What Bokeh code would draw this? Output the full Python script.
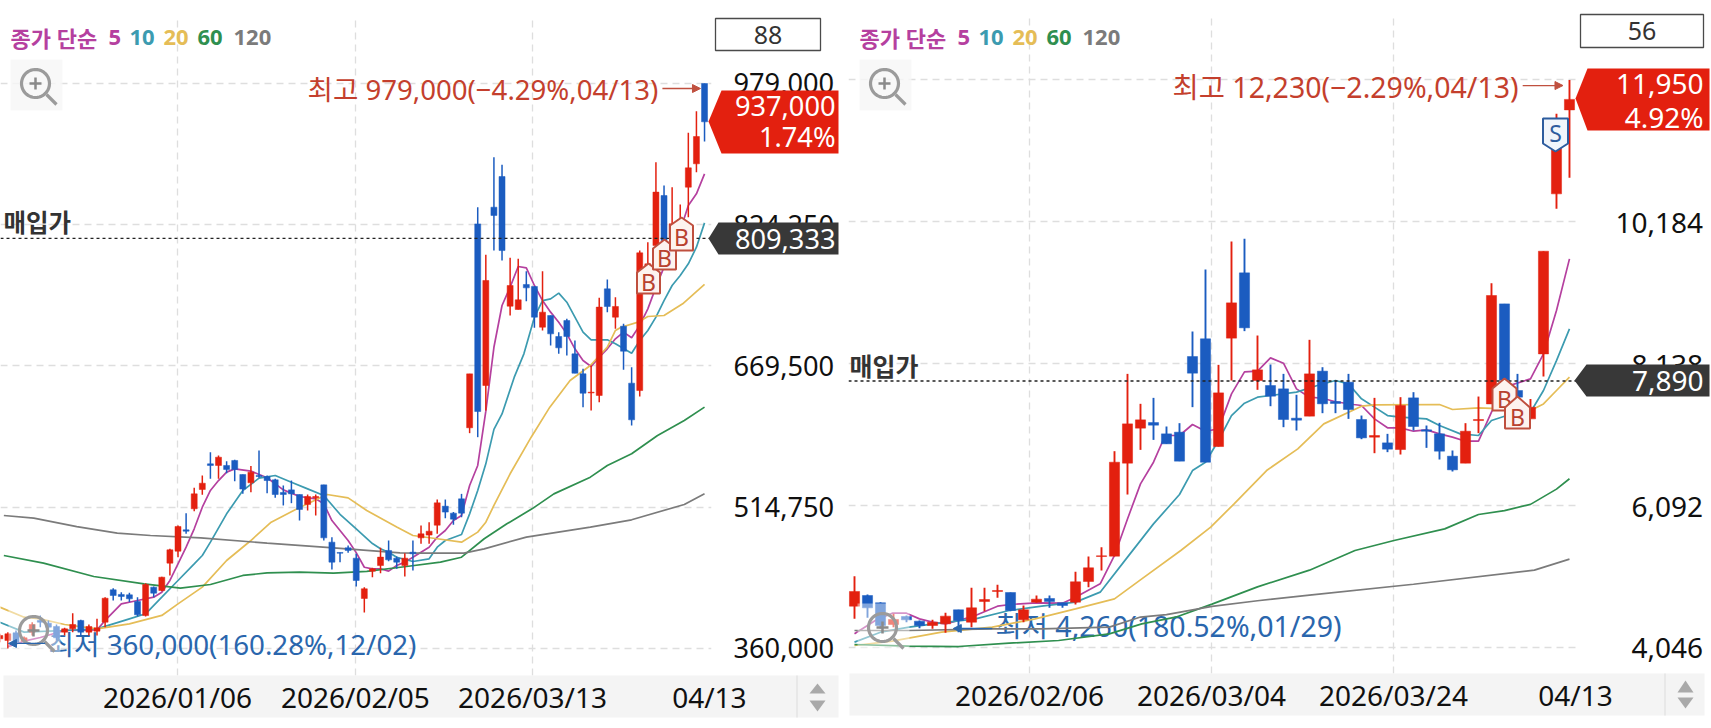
import numpy as np
from bokeh.embed import file_html
from bokeh.resources import INLINE
from bokeh.plotting import figure
from bokeh.models import (Range1d, FixedTicker, Span, Label, PolyAnnotation, BoxAnnotation,
                          Arrow, NormalHead, ColumnDataSource)

# ---- left chart values (thousand won)
L_OPEN = [370.6,368.8,377.2,368,377.9,390.7,387.7,384.1,377.9,381.5,390.7,377.9,379,388.8,424.3,419.2,418.8,411.5,396.1,427.2,
          423.5,453.5,466.6,490,513,534.2,562.3,560.5,560.5,566,550.6,541.5,549.5,548.4,544.8,530.9,533.8,528.7,517.8,525.1,
          539.3,476.5,465.2,470.3,459,414.8,444.7,450.9,467.4,459,450.9,465.5,481.2,484.2,495.1,515.9,508.3,524,601.8,825.2,
          648.1,843.5,877.1,735,731.4,758.8,756.6,712,724.8,701.8,719.3,682.8,661,640,637.2,754,723,713.1,650.7,642.6,
          766.8,801.5,856.3,810.6,818,865.4,891,979]
L_CLOSE = [374.2,376.1,366.9,371.7,386.3,388.8,383.4,371.7,381.5,386.3,377.9,384.1,382.6,415.1,418.1,417,414.4,396.9,430.1,420.6,
           438.1,468.1,493.7,488.5,529.4,541.1,560.5,569.6,556.1,556.1,534.6,553.2,548.4,544,528.7,528.7,529.4,512.3,526.5,526.5,
           481.2,454.6,464.4,467.4,434.5,425.4,447.3,460.1,457.1,454.6,459,463.7,485.6,488.5,519.6,509.4,501.7,508.3,660.9,619.6,
           763.2,834.4,796,757.7,742,755.1,723,728.5,704.7,689.4,701.8,661.6,639.7,640.8,734,734.7,734.7,685.7,610.5,793.5,
           781.4,860,807,825.3,829.6,886.6,920.9,937]
L_HIGH = [376.1,377.9,379.7,373.1,388.8,396.2,390.7,386.3,382.6,398.7,391.4,386.3,392.5,416.2,426.1,421.7,421,416.2,431.6,427.9,
          438.5,469.2,494.8,508.3,536,549.5,575.1,571.4,565.2,566.7,550.6,559.8,576.9,549.5,545.9,538.6,544,528.7,528.7,528.7,
          539.3,482,465.2,472.8,463.7,427.2,448.4,470.3,478.3,460.8,464.4,478.3,494.8,498.4,523.2,523.2,509.4,529.4,660.9,843.5,
          791.3,898.3,889.9,788,786.9,773.4,756.6,773.4,724.8,706.6,721.2,697.4,666.4,670,744.2,764.3,744.9,715.7,668.2,796,
          805.2,892.8,867.2,865.4,846.4,925,948.7,979]
L_LOW = [366.9,360,363.3,365.1,374.2,383.4,379.7,368.8,374.2,377.9,374.2,374.2,374.2,383.4,412.6,412.6,410.8,395,395,416.2,
         422.8,440,460,485.6,510.4,528.3,545.9,545.9,552.1,543.3,529.4,531.3,547,530.2,525.1,516.7,519.2,500.2,511.2,505.7,
         478.3,446.5,454.6,464.8,427.9,399.4,438.1,442.5,455.7,447.3,438.9,445.5,474.7,474.7,485.6,502.8,495.5,503.9,595.9,591.5,
         620.8,796,785.1,724.8,731.4,740.5,711.3,708.4,692,682.8,681,661.6,624.4,620.8,629.9,728.5,710.2,665.3,604.3,636.1,
         748.6,800,805.2,807,814.3,832.5,881.9,915.5]

L_MA5_X = [1,3,5,8,12,13,15,17,19,20,21,22,23,24,25,26,27,28,29,31,33,35,37,39,40,41,43,44,45,46,47,48,49,50,51,52,53,54,55,56,57,
           58,59,60,61,62,63,64,65,66,67,68,69,70,71,72,73,74,75,76,77,78,79,80,81,82,83,84,85,86,87]
L_MA5 = [362,368,372,379.7,380.4,390.7,408.9,412.6,416.2,421.7,434.5,452.7,471,491.1,514.8,533.1,544,553.2,556.8,554.3,547,533.8,526.5,524,518.5,
         500.2,478.3,465,449,447.3,447.3,444.7,450.9,454.6,460,465.5,471,482,489.3,500.2,505.7,538.6,560.5,620,690,735.8,755.9,778.5,777,757.7,
         741.2,728.5,717.5,704.7,688.3,675.5,669,679.2,688.3,699.3,706.6,700.4,714,732.1,755.9,777.8,796,817.9,845.3,858.1,880]
L_MA10_X = [0,3,8,12,14,16,18,20,22,24,25,26,28,30,32,34,36,38,40,42,44,46,47,48,49,51,53,54,55,57,58,59,60,61,62,63.5,64.7,66,67,68,69,70,71,72,73,74,75,76,78,79,80,81,82,83,84,85,86,87]
L_MA10 = [388.8,377.9,379.7,381.5,387,392.5,398,416.2,434.5,452.7,461.9,476.5,507.5,533.1,546.6,549.5,542.2,534.9,527.6,507,491,475,469.2,465.5,460,455.3,458.2,471,478.3,484.9,
          507.5,533.1,562.3,600,617,657,682.8,723,741.2,743,749.3,739.4,723,706.6,698.2,698.2,698.2,693.8,683.5,697.4,708.4,723,741.2,757.7,768.6,781.4,799.7,826.3]
L_MA20_X = [0,3,5,8,12,16,20,22,25,28,31,33.5,36.7,40.4,43,45.3,49,51,54,57,59,60,61,63,65.6,67.9,70.4,72.9,75,76,76.7,78.8,80,82,84.3,87]
L_MA20 = [405.3,394.3,392.5,386.3,381.5,387,396.2,408.9,427.2,456.4,478.3,498.4,513,528.7,525,511.2,493,483.8,480.2,476.5,487.5,498.4,516.7,551.4,591.5,624.4,653.6,670,690.1,708.4,712,717.5,723.7,724.8,737.6,758.8]
L_MA60_X = [0.5,5.4,11.6,17.8,22.3,26,30,33,37,41.2,45.3,50.2,54.4,57,59.8,62.6,65.7,68.4,72.9,75,78,81.2,84.5,87]
L_MA60 = [461.9,453.5,438.9,430.8,426.1,430.1,440,442.9,443.6,442.5,444.4,449.8,454.6,460,480.2,496.6,513,529.4,547.7,560.5,573.3,593.4,609.8,624.4]
L_MA120_X = [0.5,4.2,9.5,14.5,18.6,24.8,33,41.2,49.4,52,57.3,59.8,65,72.9,78,84.5,87]
L_MA120 = [505.7,502.8,493.6,486.4,483.8,481.2,475.4,470.3,464.8,464.4,464.4,469.2,482,493,501,517.8,529.4]

L_TICKS = [979000,824250,669500,514750,360000]
L_TICK_LABELS = ["979,000","824,250","669,500","514,750","360,000"]
L_DATE_POS = [21.94,43.9,65.77,87.6]
L_DATES = ["2026/01/06","2026/02/05","2026/03/13","04/13"]
L_AVG = 809333

# ---- right chart values (won)
R_OPEN = [4642,4796,4690,4378,4493,4426,4363,4387,4589,4411,4709,4854,4839,4445,4700,4753,4690,4700,4998,5358,
          5363,6704,7209,7290,7127,7151,8242,8497,6944,8507,9449,7896,7824,7776,7353,7382,8031,7593,7872,7334,
          7079,6997,6901,7646,7185,7127,6805,6704,7319,7559,9001,7752,7343,8280,10588,11799]
R_CLOSE = [4854,4618,4363,4450,4445,4363,4411,4498,4435,4618,4738,4868,4580,4589,4743,4709,4652,4993,5195,5368,
           6718,7271,7329,7252,6983,6733,8002,6718,7718,9016,8656,8050,7670,7334,7324,7992,7560,7565,7478,7069,
           7103,6906,7536,7233,7165,6877,6608,7165,7334,9122,7900,7656,7511,9761,11261,11950]
R_HIGH = [5075,4810,4700,4531,4507,4435,4445,4546,4589,4906,4906,4950,4839,4652,4796,4796,4690,5137,5358,5493,
          6877,7992,7560,7646,7233,7281,8603,9497,8122,9901,9939,8545,8127,7992,7690,8483,8088,7896,7992,7391,
          7646,7127,7656,7728,7247,7286,6887,7281,7665,9299,9001,7992,7631,9761,11742,12230]
R_LOW = [4459,4474,4315,4339,4411,4325,4315,4260,4267,4339,4570,4762,4570,4411,4690,4618,4618,4666,4916,5156,
         5363,6252,6896,7040,6983,6733,7512,6718,6944,7896,8608,7762,7526,7223,7175,7382,7425,7425,7343,7050,
         6848,6863,6829,7175,6925,6757,6584,6704,7137,7559,7850,7607,7343,7953,10372,10819]

R_MA5_X = [0,1.6,2.9,4,5,6,7,8,9.3,11,12,14,16,17,18.9,20,21,22,23,23.9,25,26,27,28,29,30,31,32,33,34,35,36,37,38.4,39,40,41,42,43,44,45,46,47,48,49,50,52,53,54,55]
R_MA5 = [4243,4435,4541,4541,4459,4411,4387,4435,4507,4642,4666,4690,4685,4772,4964,5373,5900,6406,6718,7103,7103,7262,7165,7199,7704,8021,8031,8223,8146,7776,7656,7640,7590,7550,7536,7343,7214,7214,7165,7185,7127,7079,7021,7021,7440,7800,7920,8280,8905,9650]
R_MA10_X = [0,2,4.2,6.7,9.3,11.9,14.4,17,18.9,21,23,25,26,27,28,29,30,31,32,34,35.6,37,38,39,40,41,42,44,45,46.6,48,49,50,52,53,54,55]
R_MA10 = [4123,4267,4339,4400,4459,4580,4642,4700,4844,5349,5829,6252,6598,6718,7031,7391,7569,7656,7680,7728,7824,7896,7848,7632,7512,7391,7367,7343,7247,7127,7103,7319,7381,7439,7752,8184,8641]
R_MA20_X = [0,2.9,6.7,10.6,13.9,17,20,22.1,25.1,27.4,29.2,31.7,34.1,36.1,39,40,45,46,48,50,52,53,54,55]
R_MA20 = [4075,4137,4267,4339,4459,4604,4748,5036,5445,5781,6118,6598,6911,7271,7526,7545,7550,7478,7502,7487,7463,7559,7752,7944]
R_MA60_X = [0,4.2,8,11.9,15.7,19.6,22.1,24.7,27.5,31,35,38.5,41.5,45.4,48,50,52,54,55]
R_MA60 = [4089,4065,4060,4108,4147,4243,4387,4483,4672,4920,5161,5445,5589,5757,5964,6020,6110,6330,6480]
R_MA120_X = [0,4.2,10.6,14.4,19.6,22,24,27.5,31,35,43,52.3,55]
R_MA120 = [4291,4291,4315,4315,4339,4485,4520,4640,4720,4800,4958,5161,5321]

R_TICKS = [12230,10184,8138,6092,4046]
R_TICK_LABELS = ["12,230","10,184","\u20078,138","\u20076,092","\u20074,046"]
R_DATE_POS = [13.46,27.46,41.46,55.46]
R_DATES = ["2026/02/06","2026/03/04","2026/03/24","04/13"]
R_AVG = 7890

RED, BLUE = "#e3200f", "#1b5cc0"
MA_COL = ["#b5409f", "#3c9bb0", "#e5bd57", "#2f8f4f", "#7b7b7b"]
FONT = "'Noto Sans', 'Noto Sans CJK KR'"
TEXT_RED, TEXT_BLUE, DARK = "#c43f2d", "#2a66ad", "#383838"


def label(p, ox, x, y, text, size, color, align="left", style="normal", level="annotation"):
    p.add_layout(Label(x=x - ox, y=y, x_units="canvas", y_units="canvas", text=text,
                       text_font_size=f"{size}px", text_color=color, text_align=align,
                       text_baseline="middle", text_font=FONT, text_font_style=style, level=level))


def poly(p, ox, pts, fill, line=None, lw=1, alpha=1.0):
    p.add_layout(PolyAnnotation(xs=[a - ox for a, _ in pts], ys=[b for _, b in pts],
                                xs_units="canvas", ys_units="canvas",
                                fill_color=fill, fill_alpha=alpha,
                                line_color=line, line_alpha=1.0, line_width=lw, level="annotation"))


def band(p, ox, x0, x1, y0, y1, col, level="annotation", alpha=1.0):
    p.add_layout(BoxAnnotation(left=x0 - ox, right=x1 - ox, top=y0, bottom=y1,
                               left_units="canvas", right_units="canvas", top_units="canvas", bottom_units="canvas",
                               fill_color=col, fill_alpha=alpha, line_color=None, level=level))


def house(p, ox, cx, apex, shoulder, bottom, hw, letter):
    poly(p, ox, [(cx, apex), (cx + hw, shoulder), (cx + hw, bottom), (cx - hw, bottom), (cx - hw, shoulder)],
         "#fdf3ef", "#bf4f3e", 2)
    label(p, ox, cx, (shoulder + bottom) / 2 - 1, letter, 23, "#b8412f", "center")


def magnifier(p, ox, cx, cy, bg=None, bgcol="#f6f6f6"):
    if bg:
        band(p, ox, cx - 25, cx + 27, cy - 24, cy + 27, bgcol, "annotation", bg)
    t = np.linspace(0, 2 * np.pi, 40)
    col = "#9b9b9b"
    poly(p, ox, list(zip(cx + 14 * np.cos(t), cy + 14 * np.sin(t))), None, col, 3.2)
    poly(p, ox, [(cx + 11, cy + 11), (cx + 21, cy + 21)], None, col, 3.2)
    poly(p, ox, [(cx - 6, cy), (cx + 6, cy)], None, "#8a8a8a", 2.5)
    poly(p, ox, [(cx, cy - 6), (cx, cy + 6)], None, "#8a8a8a", 2.5)


def panel(width, ox, x0, x1, frame_right, frame_bot, y_lo, y_hi, O, C, H, L, mas, ticks, tick_labels,
          date_pos, dates, avg, scale, body_w, wick_w, standoff, fs):
    p = figure(width=width, height=728, x_range=Range1d(x0, x1), y_range=Range1d(y_lo, y_hi),
               x_axis_location="below", y_axis_location="right",
               toolbar_location=None, output_backend="svg",
               min_border_left=0 if ox == 0 else 848 - ox, min_border_top=15,
               min_border_right=ox + width - frame_right, min_border_bottom=728 - frame_bot)
    p.outline_line_color = None
    p.background_fill_color = None
    p.border_fill_color = None

    ax = p.yaxis[0]
    ax.ticker = FixedTicker(ticks=ticks)
    ax.major_label_overrides = {t: s for t, s in zip(ticks, tick_labels)}
    ax.axis_line_color = None
    ax.major_tick_line_color = None
    ax.minor_tick_line_color = None
    ax.major_label_standoff = standoff
    ax.major_label_text_font = FONT
    ax.major_label_text_font_size = f"{fs}px"
    ax.major_label_text_color = "#101010"

    bx = p.xaxis[0]
    bx.ticker = FixedTicker(ticks=date_pos)
    bx.major_label_overrides = {t: s for t, s in zip(date_pos, dates)}
    bx.axis_line_color = None
    bx.major_tick_line_color = None
    bx.minor_tick_line_color = None
    bx.major_label_standoff = -4
    bx.major_label_text_font = FONT
    bx.major_label_text_font_size = "28px"
    bx.major_label_text_color = "#101010"

    p.xgrid[0].ticker = FixedTicker(ticks=date_pos[:3])
    p.ygrid[0].ticker = FixedTicker(ticks=ticks)
    for g in (p.xgrid[0], p.ygrid[0]):
        g.grid_line_color = "#dedede"
        g.grid_line_dash = "7 5"
        g.grid_line_width = 1.3

    for (xs, ys), col in zip(mas, MA_COL):
        p.line(np.array(xs), np.array(ys) * scale, line_color=col, line_width=1.7)

    idx = np.arange(len(O))
    O, C, H, L = [np.array(a, dtype=float) * scale for a in (O, C, H, L)]
    colors = [RED if c >= o else BLUE for o, c in zip(O, C)]
    src = ColumnDataSource(dict(x=idx, o=O, c=C, h=H, l=L, col=colors))
    p.segment("x", "h", "x", "l", source=src, line_color="col", line_width=wick_w)
    p.vbar("x", body_w, "o", "c", source=src, fill_color="col", line_color="col", line_width=0.5)

    p.add_layout(Span(location=avg, dimension="width", line_color="#222222", line_dash="3 3", line_width=1.4))
    return p


# -------------------------------------------------- left panel
WL = 842
left = panel(WL, 0, 0.0864, 87.86, 711, 675, 330405, 1053500, L_OPEN, L_CLOSE, L_HIGH, L_LOW,
             [(L_MA5_X, L_MA5), (L_MA10_X, L_MA10), (L_MA20_X, L_MA20), (L_MA60_X, L_MA60), (L_MA120_X, L_MA120)],
             L_TICKS, L_TICK_LABELS, L_DATE_POS, L_DATES, L_AVG, 1000, 0.74, 1.5, 16, 27.2)

# -------------------------------------------------- right panel
right = panel(1711 - WL, WL, -0.4615, 55.54, 1576, 673, 3671, 13160, R_OPEN, R_CLOSE, R_HIGH, R_LOW,
              [(R_MA5_X, R_MA5), (R_MA10_X, R_MA10), (R_MA20_X, R_MA20), (R_MA60_X, R_MA60), (R_MA120_X, R_MA120)],
              R_TICKS, R_TICK_LABELS, R_DATE_POS, R_DATES, R_AVG, 1, 0.78, 1.9, 33, 28)


def sheet(bg):
    s = figure(width=1711, height=728, x_range=Range1d(0, 1711), y_range=Range1d(728, 0),
               x_axis_type=None, y_axis_type=None, toolbar_location=None, output_backend="svg",
               min_border=0, min_border_left=0, min_border_right=0, min_border_top=0, min_border_bottom=0)
    s.outline_line_color = None
    s.xgrid.visible = False
    s.ygrid.visible = False
    s.background_fill_color = bg
    s.border_fill_color = bg
    return s


back = sheet("white")
front = sheet(None)


def legend(p, ox, shift):
    y = 37
    label(p, ox, 10 + shift, y, "종가 단순", 22, MA_COL[0], style="bold")
    for x, t, c in [(108, "5", MA_COL[0]), (129, "10", MA_COL[1]), (163, "20", MA_COL[2]),
                    (197, "60", MA_COL[3]), (233, "120", MA_COL[4])]:
        label(p, ox, x + shift, y, t, 22, c, style="bold")


def box(p, x0, x1, y0, y1, text):
    poly(p, 0, [(x0, y0), (x1, y0), (x1, y1), (x0, y1)], "white", "#4a4a4a", 1.3)
    label(p, 0, (x0 + x1) / 2, (y0 + y1) / 2, text, 25, "#333333", "center")


def arrow_to(p, x0, x1, y, col):
    p.add_layout(Arrow(end=NormalHead(size=8, fill_color=col, line_color=col), x_start=x0, x_end=x1,
                       y_start=y, y_end=y, line_color=col, line_width=1.3))


# ---- bottom bands under both charts
band(back, 0, 3, 838, 675, 717, "#f4f4f4")
band(back, 0, 796, 797, 675, 717, "#dcdcdc")
band(back, 0, 849, 1704, 673, 715, "#f4f4f4")
band(back, 0, 1664, 1665, 673, 715, "#dcdcdc")

# ---- left decorations
legend(left, 0, 0)
magnifier(left, 0, 35, 83, bg=0.8)
magnifier(left, 0, 33, 630, bg=0.45, bgcol="#ffffff")
label(left, 0, 3, 222, "매입가", 24.5, "#333333", style="bold")
label(left, 0, 307, 88, "최고 979,000(−4.29%,04/13)", 27.6, TEXT_RED)
arrow_to(left, 81.8, 86.5, 973500, "#c0503f")
label(left, 0, 48, 643, "최저 360,000(160.28%,12/02)", 27.7, TEXT_BLUE, level="underlay")
arrow_to(left, 5.6, 1.07, 365500, TEXT_BLUE)
house(left, 0, 648, 263, 272, 293, 11.5, "B")
house(left, 0, 664, 239, 248, 269, 11.5, "B")
house(left, 0, 681, 217, 225, 250, 11.5, "B")

# ---- right decorations
legend(right, WL, 849)
magnifier(right, WL, 884, 83, bg=0.8)
magnifier(right, WL, 882, 627, bg=0.45, bgcol="#ffffff")
label(right, WL, 849, 365, "매입가", 25, "#333333", style="bold")
label(right, WL, 1172, 86, "최고 12,230(−2.29%,04/13)", 28.5, TEXT_RED)
arrow_to(right, 51.4, 54.5, 12150, "#c0503f")
label(right, WL, 995, 625, "최저 4,260(180.52%,01/29)", 28.5, TEXT_BLUE, level="underlay")
arrow_to(right, 10.6, 7.6, 4320, TEXT_BLUE)
house(right, WL, 1504, 378, 388, 410, 12, "B")
house(right, WL, 1517, 396, 407, 428, 12.5, "B")
poly(right, WL, [(1542.5, 118), (1567.5, 118), (1567.5, 143), (1555, 151), (1542.5, 143)], "#f0f5fb", "#2d5c9e", 2)
label(right, WL, 1555, 132, "S", 23, "#2d5c9e", "center")

# ---- tags and boxes lying over the price scales
box(front, 715, 820, 18, 50, "88")
box(front, 1580, 1703, 14, 47, "56")
poly(front, 0, [(817, 683), (825, 693), (809, 693)], "#a9a9a9")
poly(front, 0, [(809, 700), (825, 700), (817, 711)], "#a9a9a9")
poly(front, 0, [(1685, 680), (1693, 692), (1677, 692)], "#a9a9a9")
poly(front, 0, [(1677, 697), (1693, 697), (1685, 708)], "#a9a9a9")
poly(front, 0, [(708, 121), (721, 90), (838, 90), (838, 153), (721, 153)], RED)
label(front, 0, 835, 105, "937,000", 27.2, "white", "right")
label(front, 0, 835, 136, "1.74%", 27.2, "white", "right")
poly(front, 0, [(708, 238), (718, 222), (838, 222), (838, 254), (718, 254)], DARK)
label(front, 0, 835, 238, "809,333", 27.2, "white", "right")
poly(front, 0, [(1575, 98), (1587, 68), (1709, 68), (1709, 130), (1587, 130)], RED)
label(front, 0, 1703, 83, "11,950", 28, "white", "right")
label(front, 0, 1703, 116, "4.92%", 28, "white", "right")
poly(front, 0, [(1574, 380), (1586, 364), (1709, 364), (1709, 396), (1586, 396)], DARK)
label(front, 0, 1703, 380, "7,890", 28, "white", "right")

for fig, x in ((back, 0), (left, 0), (right, WL), (front, 0)):
    fig.styles = {"position": "absolute", "left": f"{x}px", "top": "0px"}

open("out.html", "w").write(file_html([back, left, right, front], INLINE))
